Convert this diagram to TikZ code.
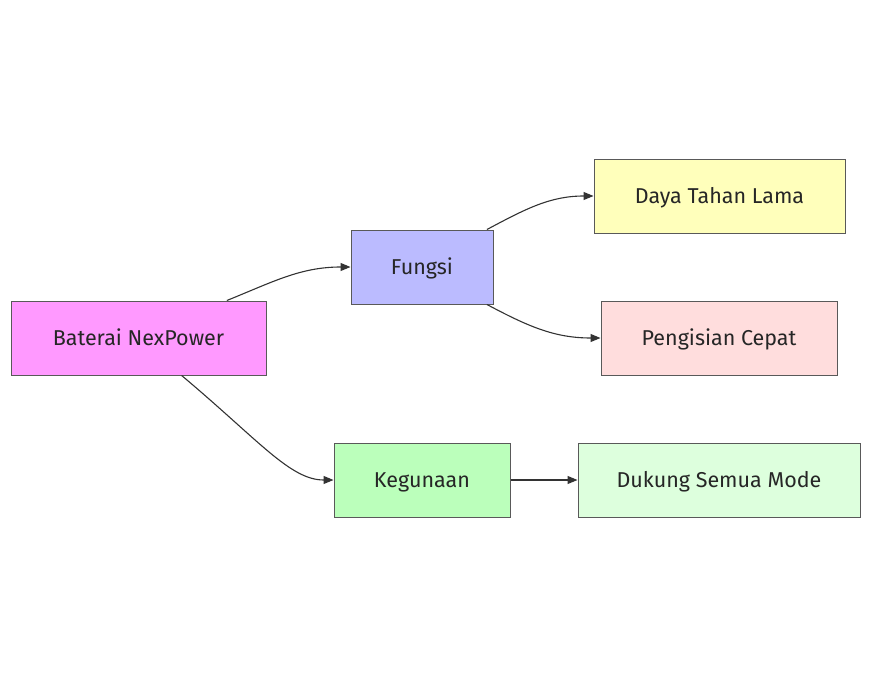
\documentclass[tikz,border=0pt]{standalone}
\usepackage{fontspec}
\setmainfont{Fira Sans}
\usetikzlibrary{arrows.meta}
\begin{document}
\begin{tikzpicture}[x=1pt,y=-1pt,
  box/.style={draw=black!65,line width=1pt,minimum height=74pt,inner sep=0pt,text height=18pt,text depth=4pt,text=black!85,font=\fontsize{21.5}{24}\selectfont},
  link/.style={draw=black!80,line width=1.1pt,-{Triangle[length=10pt,width=8pt]}}]
\useasboundingbox (0,0) rectangle (871,677);
%nodes
\node[box,fill={rgb,255:red,255;green,153;blue,255},minimum width=255pt](bat) at (138.5,338){Baterai NexPower};
\node[box,fill={rgb,255:red,187;green,187;blue,255},minimum width=142pt](fun) at (422,267){Fungsi};
\node[box,fill={rgb,255:red,187;green,255;blue,187},minimum width=176pt](keg) at (422,480){Kegunaan};
\node[box,fill={rgb,255:red,255;green,255;blue,187},minimum width=251pt](daya) at (719.5,196){Daya Tahan Lama};
\node[box,fill={rgb,255:red,255;green,221;blue,221},minimum width=236pt](cepat) at (719,338){Pengisian Cepat};
\node[box,fill={rgb,255:red,221;green,255;blue,221},minimum width=282pt](mode) at (719,480){Dukung Semua Mode};
%links
\draw[link](bat.23) to [out=22,in=180] (fun.west);
\draw[link](bat.-41) to [out=-40,in=180,out looseness=1.4,in looseness=0.6] (keg.west);
\draw[link](fun.30) to [out=28,in=180] (daya.west);
\draw[link](fun.-30) to [out=-28,in=180] (cepat.west);
\draw[link](keg) -- (mode);
\end{tikzpicture}
\end{document}
